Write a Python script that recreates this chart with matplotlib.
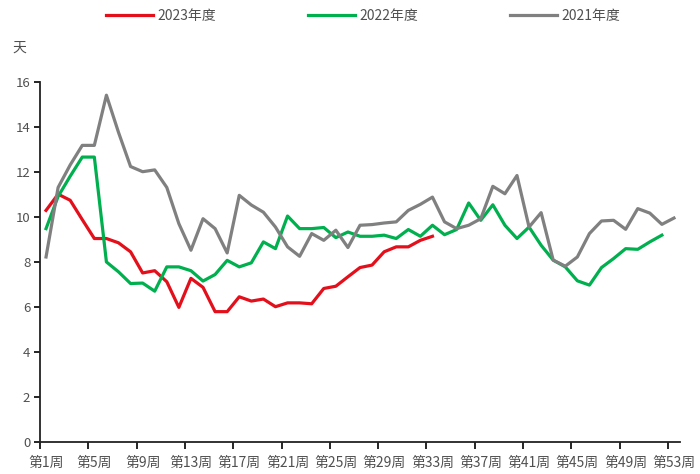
import numpy as np
import matplotlib
matplotlib.use("Agg")
import matplotlib.pyplot as plt

plt.rcParams['font.family'] = ['Noto Sans CJK SC', 'DejaVu Sans']

week_labels = ["第%d周" % w for w in range(1, 54, 4)]

y2023 = [10.28, 11.0, 10.73, 9.87, 9.03, 9.03, 8.84, 8.44, 7.5, 7.6, 7.11,
         5.97, 7.26, 6.86, 5.78, 5.78, 6.44, 6.25, 6.34, 6.0, 6.17, 6.17,
         6.13, 6.81, 6.91, 7.33, 7.74, 7.85, 8.44, 8.66, 8.66, 8.95, 9.13]
y2022 = [9.47, 10.9, 11.8, 12.65, 12.65, 7.99, 7.55, 7.03, 7.05, 6.69, 7.77,
         7.77, 7.6, 7.14, 7.43, 8.06, 7.77, 7.95, 8.88, 8.58, 10.03, 9.47,
         9.47, 9.52, 9.07, 9.32, 9.13, 9.13, 9.18, 9.03, 9.43, 9.13, 9.62,
         9.2, 9.43, 10.61, 9.84, 10.53, 9.62, 9.03, 9.54, 8.73, 8.07, 7.77,
         7.15, 6.96, 7.74, 8.14, 8.58, 8.55, 8.88, 9.18]
y2021 = [8.21, 11.3, 12.3, 13.17, 13.17, 15.4, 13.75, 12.23, 12.0, 12.08,
         11.3, 9.69, 8.51, 9.91, 9.47, 8.39, 10.95, 10.52, 10.2, 9.54, 8.66,
         8.24, 9.25, 8.95, 9.4, 8.63, 9.62, 9.65, 9.72, 9.77, 10.28, 10.55,
         10.87, 9.77, 9.47, 9.62, 9.91, 11.35, 11.02, 11.83, 9.54, 10.18,
         8.07, 7.8, 8.21, 9.25, 9.81, 9.84, 9.44, 10.36, 10.16, 9.66, 9.94]

series = [("2023年度", y2023, "#e3101c"),
          ("2022年度", y2022, "#00b04f"),
          ("2021年度", y2021, "#808080")]

fig = plt.figure(figsize=(7, 4.74), dpi=100)
ax = fig.add_axes([40 / 700, 1 - 441.7 / 474, 640 / 700, 360 / 474])

for name, vals, color in series:
    x = np.arange(1, len(vals) + 1)
    ax.plot(x, vals, color=color, lw=2.3, label=name, solid_joinstyle="round")

ax.set_xlim(0.5, 53.5)
ax.set_ylim(0, 16)
ax.set_yticks(np.arange(0, 17, 2))
ax.tick_params(axis="y", direction="out", length=4, width=1.2,
               labelsize=9.5, labelcolor="#505050", pad=3)

ax.set_xticks(np.arange(0.5, 53.6, 4))
ax.set_xticklabels([])
ax.set_xticks(np.arange(1, 54, 4), minor=True)
ax.set_xticklabels(week_labels, minor=True)
ax.tick_params(axis="x", which="major", direction="out", length=5, width=1.2)
ax.tick_params(axis="x", which="minor", length=0, labelsize=10,
               labelcolor="#505050", pad=10)

for s in ["top", "right"]:
    ax.spines[s].set_visible(False)
for s in ["left", "bottom"]:
    ax.spines[s].set_linewidth(1.3)
    ax.spines[s].set_color("#222222")

fig.text(19 / 700, 1 - 48 / 474, "天", fontsize=10, color="#505050",
         ha="center", va="center")

fig.legend(loc="center", bbox_to_anchor=(363 / 700, 1 - 16 / 474),
           ncol=3, frameon=False, fontsize=10, handlelength=3.4,
           handletextpad=0.3, columnspacing=6.6, labelcolor="#505050")

fig.savefig("out.png", dpi=100)
